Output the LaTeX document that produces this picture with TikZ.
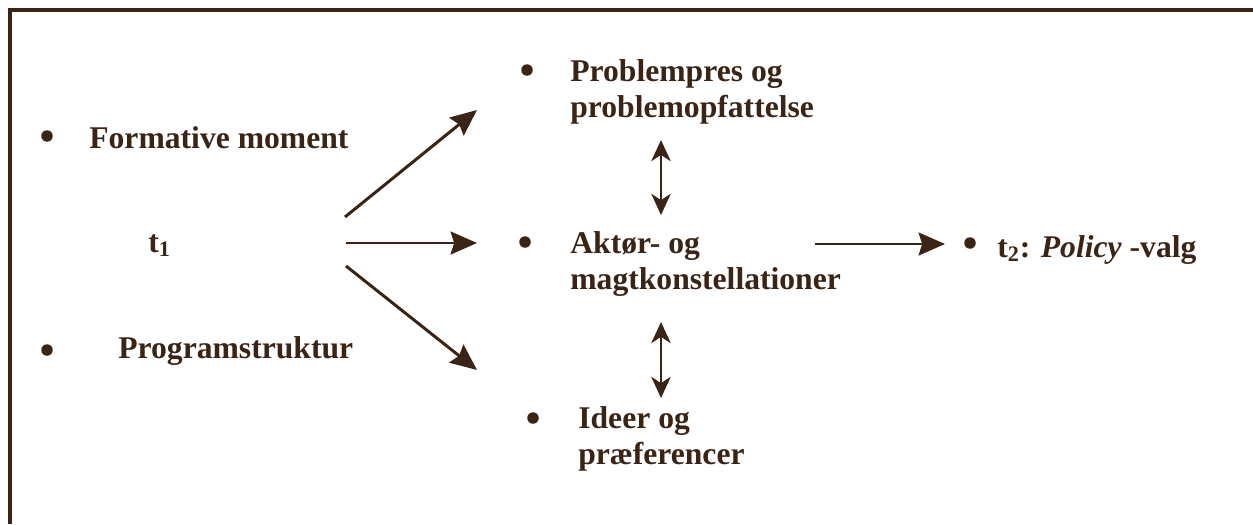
\documentclass[tikz,border=0pt]{standalone}
\usepackage{fontspec}
\setmainfont{Liberation Serif}
\usetikzlibrary{arrows.meta}
\definecolor{ink}{HTML}{3A2415}

\begin{document}
\begin{tikzpicture}[x=0.02cm, y=-0.02cm,
	every node/.style={font=\fontsize{18}{20.4}\selectfont\bfseries, text=ink, inner sep=0pt},
	bul/.style={circle, fill=ink, minimum size=0.23cm},
	item/.style={anchor=base west, align=left},
	fan/.style={->, ink, line width=1.7pt, >={Stealth[length=15pt, width=13pt, inset=2pt]}},
	dbl/.style={<->, ink, line width=1.6pt, >={Stealth[length=12pt, width=11pt, inset=3.5pt]}}]
	\useasboundingbox (0,0) rectangle (1253,524);
	% frame, cut off at right and bottom
	\draw[ink, line width=1.8pt] (10,524) -- (10,10) -- (1253,10);
	% left column
	\node[bul] (bform) at (47,136) {};
	\node[item] (form) at (89,148) {Formative moment};
	\node[item] (tone) at (148,252) {t\textsubscript{1}};
	\node[bul] (bprog) at (47,350) {};
	\node[item] (prog) at (118,358) {Programstruktur};
	% middle column (base = last line)
	\node[bul] (bprob) at (527,70) {};
	\node[item] (prob) at (570,117) {Problempres og\\problemopfattelse};
	\node[bul] (bakt) at (525,242) {};
	\node[item] (akt) at (570,289) {Aktør- og\\magtkonstellationer};
	\node[bul] (bide) at (533,418) {};
	\node[item] (ide) at (578,464) {Ideer og\\præferencer};
	% right column
	\node[bul] (bpol) at (970,243) {};
	\node[item] (pol) at (997,257) {t\textsubscript{2}: \textit{Policy} -valg};
	% arrow ends
	\coordinate (fanT) at (345,217);
	\coordinate (fanM) at (346,243);
	\coordinate (fanB) at (346,266);
	\coordinate (toT) at (477,110);
	\coordinate (toM) at (477,243);
	\coordinate (toB) at (477,370);
	\coordinate (outL) at (815,244);
	\coordinate (outR) at (945,244);
	\coordinate (upA) at (661,140);
	\coordinate (upB) at (661,215);
	\coordinate (dnA) at (661,322);
	\coordinate (dnB) at (661,398);
	\draw[fan] (fanT) -- (toT);
	\draw[fan] (fanM) -- (toM);
	\draw[fan] (fanB) -- (toB);
	\draw[fan] (outL) -- (outR);
	\draw[dbl] (upA) -- (upB);
	\draw[dbl] (dnA) -- (dnB);
\end{tikzpicture}
\end{document}
